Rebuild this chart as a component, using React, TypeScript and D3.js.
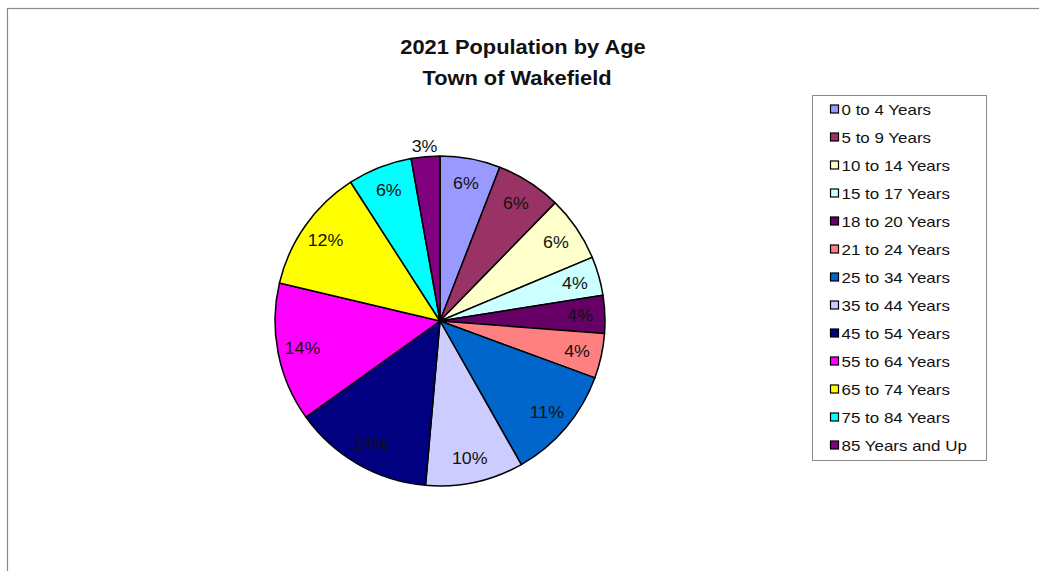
import React from "react";
import * as d3 from "d3";

const categories = [
  "0 to 4 Years",
  "5 to 9 Years",
  "10 to 14 Years",
  "15 to 17 Years",
  "18 to 20 Years",
  "21 to 24 Years",
  "25 to 34 Years",
  "35 to 44 Years",
  "45 to 54 Years",
  "55 to 64 Years",
  "65 to 74 Years",
  "75 to 84 Years",
  "85 Years and Up",
];
const shares = [5.9, 6.4, 6.4, 3.8, 3.7, 4.4, 11.2, 9.6, 13.7, 13.6, 12.2, 6.3, 2.8];
const colors = [
  "#9999FF", "#993366", "#FFFFCC", "#CCFFFF", "#660066", "#FF8080", "#0066CC",
  "#CCCCFF", "#000080", "#FF00FF", "#FFFF00", "#00FFFF", "#800080",
];
const titleLines = ["2021 Population by Age", "Town of Wakefield"];

const W = 1039;
const H = 571;

export default function App() {
  const cx = 440;
  const cy = 321;
  const r = 165;
  const data = categories.map((c, i) => ({ c, v: shares[i], col: colors[i] }));
  const total = d3.sum(shares);
  const pie = d3.pie<any>().value((d) => d.v).sort(null);
  const arcs = pie(data);
  const arc = d3.arc<any>().innerRadius(0).outerRadius(r);
  const font = "Arial, 'Liberation Sans', sans-serif";
  const titleX = [523, 517];

  return (
    <div style={{ position: "absolute", left: 0, top: 0 }}>
      <svg width={W} height={H} style={{ display: "block", background: "#fff" }}>
        <rect x={7.5} y={8.5} width={W + 20} height={H + 20} fill="#fff" stroke="#8a8a8a" strokeWidth={1.2} />
        {titleLines.map((t, i) => (
          <text
            key={i}
            transform={`translate(${titleX[i]},${53.5 + i * 31.5}) scale(1.04,1)`}
            textAnchor="middle"
            fontFamily={font}
            fontWeight="bold"
            fontSize={21}
            fill="#111"
          >
            {t}
          </text>
        ))}
        <g transform={`translate(${cx},${cy})`}>
          {arcs.map((a, i) => (
            <path key={i} d={arc(a) as string} fill={a.data.col} stroke="#000" strokeWidth={1.5} strokeLinejoin="round" />
          ))}
          {arcs.map((a, i) => {
            const mid = (a.startAngle + a.endAngle) / 2;
            const last = i === arcs.length - 1;
            const rr = last ? r + 11 : r * 0.85;
            const x = Math.sin(mid) * rr;
            const y = -Math.cos(mid) * rr;
            return (
              <text
                key={"l" + i}
                transform={`translate(${x},${y}) scale(1.08,1)`}
                dy="0.36em"
                textAnchor="middle"
                fontFamily={font}
                fontSize={16.5}
                fill="#111"
              >
                {Math.round((a.data.v / total) * 100)}%
              </text>
            );
          })}
        </g>
        <g>
          <rect x={812.5} y={95.5} width={174} height={365} fill="#fff" stroke="#8a8a8a" strokeWidth={1} />
          {categories.map((c, i) => {
            const y = 109.5 + i * 28;
            return (
              <g key={c}>
                <rect x={830.5} y={y - 4.5} width={8} height={8} fill={colors[i]} stroke="#000" strokeWidth={1.2} />
                <text
                  transform={`translate(841.5,${y}) scale(1.13,1)`}
                  dy="0.36em"
                  fontFamily={font}
                  fontSize={15}
                  fill="#111"
                >
                  {c}
                </text>
              </g>
            );
          })}
        </g>
      </svg>
    </div>
  );
}
